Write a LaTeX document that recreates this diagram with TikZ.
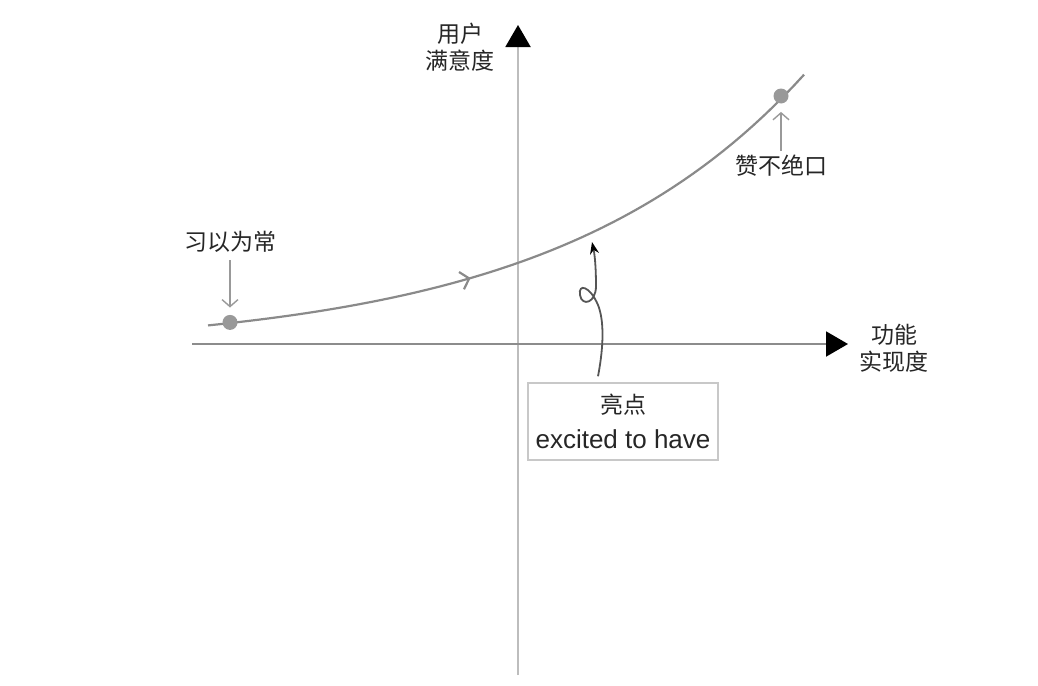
\documentclass[tikz,border=0pt]{standalone}
\usepackage{fontspec}
\setmainfont{Liberation Sans}
\newfontfamily\cjk{Noto Sans CJK SC}
\usepackage{tikz}
\usetikzlibrary{arrows.meta,decorations.markings}
\definecolor{axisgray}{HTML}{BDBDBD}
\definecolor{xaxisgray}{HTML}{8C8C8C}
\definecolor{linegray}{HTML}{8A8A8A}
\definecolor{dotgray}{HTML}{999999}
\definecolor{boxgray}{HTML}{C8C8C8}
\definecolor{inkgray}{HTML}{555555}
\tikzstyle{cjklabel} = [font=\cjk\fontsize{11.5}{13.5}\selectfont, text=black!85, align=center, inner sep=1pt]
\tikzstyle{gdot} = [circle, fill=dotgray, minimum size=7.5pt, inner sep=0pt]
\tikzstyle{pointer} = [draw=dotgray, line width=0.7pt, -{Straight Barb[length=3.5pt,width=8pt]}]
\tikzstyle{axisline} = [line width=1pt, -{Triangle[length=11pt,width=12.5pt,color=black]}]
\tikzstyle{notebox} = [rectangle, draw=boxgray, line width=0.75pt, minimum width=95pt, minimum height=38.5pt, align=center, text=black!85, font=\fontsize{13}{17.5}\selectfont]

\begin{document}
\begin{tikzpicture}[x=0.5pt,y=-0.5pt]
        \useasboundingbox (0,0) rectangle (1038,685);

        \coordinate (xs) at (192,344);
        \coordinate (xe) at (848,344);
        \coordinate (ys) at (518,675);
        \coordinate (ye) at (518,25);
        \draw[axisline, draw=axisgray] (ys) -- (ye);
        \draw[axisline, draw=xaxisgray] (xs) -- (xe);

        \node (ylab) [cjklabel] at (460,47) {用户\\满意度};
        \node (xlab) [cjklabel] at (894,348) {功能\\实现度};

        % curve
        \draw[linegray, line width=1.1pt, postaction={decorate},
              decoration={markings, mark=at position 0.403 with {\arrow{Straight Barb[length=4pt,width=9pt]}}}]
              plot[domain=208:804, samples=60] (\x, {350.9-11.1*exp(0.004*\x)});

        \node (p1) [gdot] at (230,322.4) {};
        \node (p2) [gdot] at (781,96) {};

        \node (habit) [cjklabel] at (230,242) {习以为常};
        \node (praise) [cjklabel] at (781,166) {赞不绝口};

        \draw[pointer, shorten <=2.5pt, shorten >=3.5pt] (habit) -- (p1);
        \draw[pointer, shorten <=1pt, shorten >=4pt] (praise) -- (p2);

        \node (bright) [notebox] at (623,421.5) {{\cjk\fontsize{11.5}{17.5}\selectfont 亮点}\\excited to have};

        \coordinate (hl) at (592,242);
        \draw[inkgray, line width=0.9pt, -{Stealth[length=6pt,width=4.5pt,color=black]}]
              ([xshift=-12.5pt,yshift=3pt]bright.north) .. controls (604,345) and (604,320) .. (598,305)
              .. controls (590,286) and (578,283) .. (580,295)
              .. controls (582,307) and (596,303) .. (596,286)
              .. controls (596,270) and (595,256) .. (hl);
    \end{tikzpicture}
\end{document}
